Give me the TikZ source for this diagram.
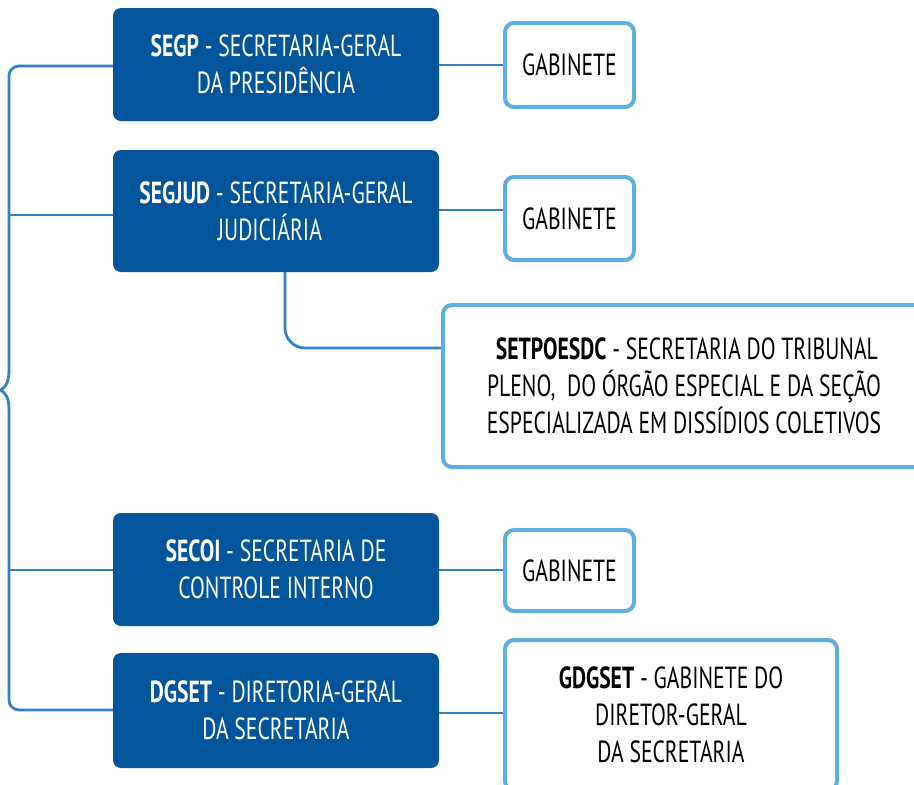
\documentclass[tikz,border=0pt]{standalone}
\usepackage{fontspec}
\setmainfont{PT Sans}[FakeStretch=0.71]
\usepackage{tikz}

\definecolor{darkblue}{HTML}{02559A}
\definecolor{midblue}{HTML}{3480C6}
\definecolor{lightblue}{HTML}{5EAEE2}

\begin{document}
\begin{tikzpicture}[x=1pt,y=-1pt,
                sec/.style={rectangle,rounded corners=8,fill=darkblue,text=white,align=center,
                            minimum width=326,minimum height=113,inner sep=0,
                            font=\fontsize{30.5}{37}\selectfont},
                gab/.style={rectangle,rounded corners=9,draw=lightblue,line width=4,fill=white,
                            align=center,inner sep=0,font=\fontsize{30.5}{37}\selectfont},
                conn/.style={draw=midblue,line width=2.8}
            ]
                \useasboundingbox (0,0) rectangle (914,785);
                \clip (0,0) rectangle (914,785);

                % bracket on the left
                \draw[conn,rounded corners=10] (113,66) -| (9,372);
                \draw[conn] (9,371) .. controls (9,384) and (4,388) .. (0.5,390)
                                    .. controls (4,392) and (9,396) .. (9,409);
                \draw[conn,rounded corners=10] (9,408) |- (113,710);

                % secretarias
                \node[sec] (segp) at (276,64.5) {\textbf{SEGP} - SECRETARIA-GERAL\\DA PRESIDÊNCIA};
                \node[sec,minimum height=122] (segjud) at (276,211) {\textbf{SEGJUD} - SECRETARIA-GERAL\\JUDICIÁRIA\hspace*{0.4em}};
                \node[sec] (secoi) at (276,569.5) {\textbf{SECOI} - SECRETARIA DE\\CONTROLE INTERNO};
                \node[sec,minimum height=115] (dgset) at (276,710.5) {\textbf{DGSET} - DIRETORIA-GERAL\\DA SECRETARIA};

                % gabinetes
                \node[gab,minimum width=129,minimum height=84] (gab1) at (569.5,65) {GABINETE};
                \node[gab,minimum width=129,minimum height=83] (gab2) at (569.5,218.5) {GABINETE};
                \node[gab,minimum width=129,minimum height=81] (gab3) at (569.5,570.5) {GABINETE};
                \node[gab,minimum width=482,minimum height=162] (setpo) at (684,386)
                    {\ \textbf{SETPOESDC} - SECRETARIA DO TRIBUNAL\\PLENO,\ \ DO ÓRGÃO ESPECIAL E DA SEÇÃO\\ESPECIALIZADA EM DISSÍDIOS COLETIVOS};
                \node[gab,minimum width=332,minimum height=150] (gdgset) at (671,715)
                    {\textbf{GDGSET} - GABINETE DO\\DIRETOR-GERAL\\DA SECRETARIA};

                % ligacoes
                \draw[conn] (9,215) -- (segjud.west |- 0,215);
                \draw[conn] (9,570) -- (secoi.west |- 0,570);
                \draw[conn] (segp.east |- 0,65) -- (gab1.west |- 0,65);
                \draw[conn] (segjud.east |- 0,210) -- (gab2.west |- 0,210);
                \draw[conn] (secoi.east |- 0,570) -- (gab3.west |- 0,570);
                \draw[conn] (dgset.east |- 0,713) -- (gdgset.west |- 0,713);
                \draw[conn,rounded corners=20] (segjud.south -| 285,0) |- (setpo.west |- 0,348);

            \end{tikzpicture}
\end{document}
